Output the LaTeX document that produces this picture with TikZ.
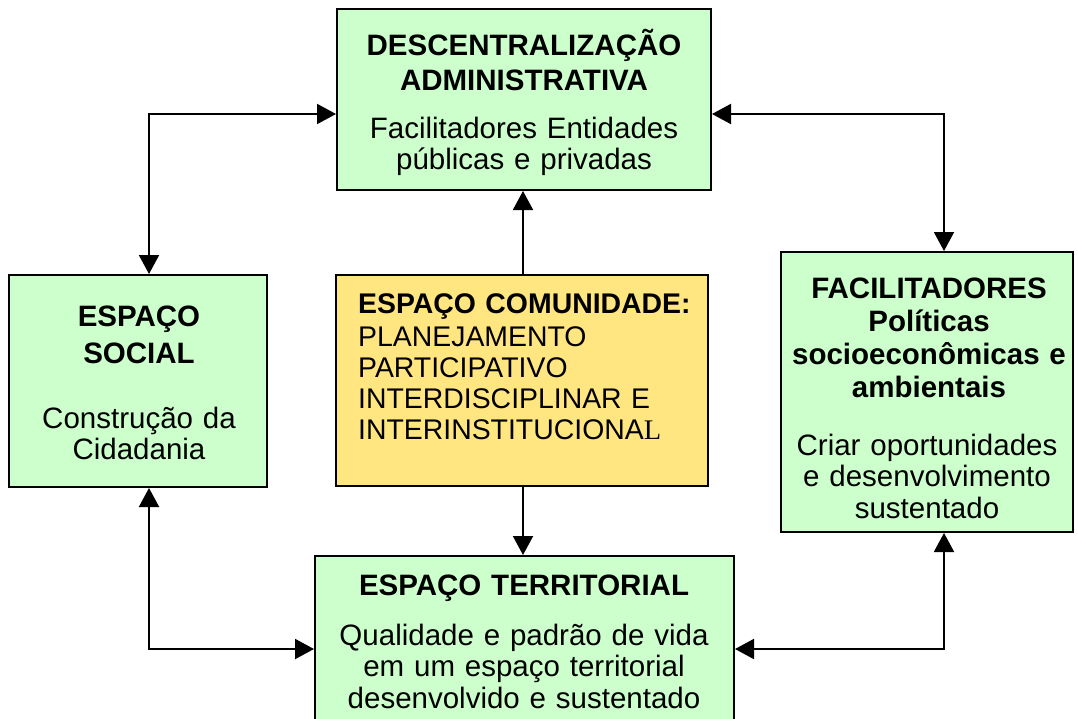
\documentclass[tikz,border=0pt]{standalone}
\usepackage{fontspec}
\setmainfont{Liberation Sans}
\newfontfamily\serifL{Liberation Serif}
\usetikzlibrary{arrows.meta}
\definecolor{boxgreen}{HTML}{CCFFCC}
\definecolor{boxyellow}{HTML}{FFE680}
\tikzset{
  box/.style={draw=black, line width=2pt, inner sep=0pt},
  txt/.style={inner sep=0pt, anchor=base, align=center, text width=#1},
  conn/.style={line width=2pt, {Triangle[length=19pt,width=20pt]}-{Triangle[length=19pt,width=20pt]}},
  oneway/.style={line width=2pt, -{Triangle[length=19pt,width=20pt]}},
  titlefont/.style={font={\fontsize{29.5}{35}\selectfont\bfseries}},
  bodyfont/.style={font={\fontsize{29.5}{31.5}\selectfont}}
}
\begin{document}
\begin{tikzpicture}[x=1pt,y=-1pt]
\useasboundingbox (0,0) rectangle (1078,718);
% boxes
\node[box, fill=boxgreen, minimum width=374pt, minimum height=181pt] (top) at (524,99.5) {};
\node[box, fill=boxgreen, minimum width=258pt, minimum height=212pt] (left) at (138,381) {};
\node[box, fill=boxyellow, minimum width=372pt, minimum height=211pt] (center) at (522,380.5) {};
\node[box, fill=boxgreen, minimum width=292pt, minimum height=280pt] (right) at (927,392) {};
\node[box, fill=boxgreen, minimum width=419pt, minimum height=204pt] (bottom) at (524.5,658) {};
% texts
\node[txt=360pt, titlefont] (toptitle) at (524,55) {DESCENTRALIZAÇÃO\\ADMINISTRATIVA};
\node[txt=360pt, bodyfont] (topbody) at (524,138) {Facilitadores Entidades\\públicas e privadas};
\node[txt=250pt, font={\fontsize{29.5}{37.5}\selectfont\bfseries}] (lefttitle) at (139,326) {ESPAÇO\\SOCIAL};
\node[txt=250pt, bodyfont] (leftbody) at (139,428) {Construção da\\Cidadania};
\node[inner sep=0pt, anchor=base west, align=left, text width=400pt, font={\fontsize{28.4}{31}\selectfont}] (centertext) at (358,313)
  {\textbf{ESPAÇO COMUNIDADE:}\\[2pt]PLANEJAMENTO\\PARTICIPATIVO\\INTERDISCIPLINAR E\\INTERINSTITUCIONA{\serifL L}};
\node[txt=290pt, font={\fontsize{29.5}{33}\selectfont\bfseries}] (righttitle) at (929,298) {FACILITADORES\\Políticas\\socioeconômicas e\\ambientais};
\node[txt=290pt, bodyfont] (rightbody) at (927,455) {Criar oportunidades\\e desenvolvimento\\sustentado};
\node[txt=410pt, titlefont] (bottomtitle) at (524,595) {ESPAÇO TERRITORIAL};
\node[txt=410pt, bodyfont] (bottombody) at (524,645) {Qualidade e padrão de vida\\em um espaço territorial\\desenvolvido e sustentado};
% connectors
\coordinate (c1) at (149,114);
\coordinate (c2) at (944,114);
\coordinate (c3) at (149,649);
\coordinate (c4) at (944,649);
\coordinate (c5) at (523,0);
\draw[conn] (top.west |- c1) -| (c1 |- left.north);
\draw[conn] (top.east |- c2) -| (c2 |- right.north);
\draw[conn] (left.south -| c3) |- (bottom.west |- c3);
\draw[conn] (bottom.east |- c4) -| (c4 |- right.south);
\draw[oneway] (center.north -| c5) -- (top.south -| c5);
\draw[oneway] (center.south -| c5) -- (bottom.north -| c5);
\end{tikzpicture}
\end{document}
